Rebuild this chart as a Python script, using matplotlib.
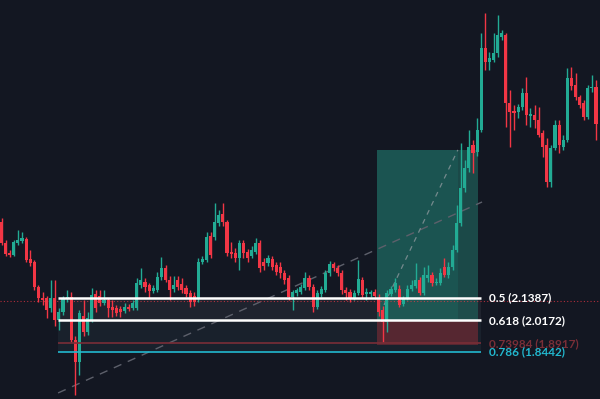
import matplotlib
matplotlib.use("Agg")
import matplotlib.pyplot as plt
import numpy as np
from matplotlib.patches import Rectangle

# candle data (price), one entry per bar
opens = [2.553, 2.439, 2.385, 2.374, 2.439, 2.450, 2.461, 2.352, 2.335, 2.199,
         2.139, 2.139, 2.085, 2.139, 2.019, 2.063, 2.134, 2.144, 1.910, 1.790,
         2.041, 1.954, 2.019, 2.161, 2.150, 2.112, 2.128, 2.090, 2.085, 2.079,
         2.068, 2.090, 2.085, 2.085, 2.210, 2.226, 2.210, 2.177, 2.183, 2.254,
         2.303, 2.237, 2.188, 2.237, 2.215, 2.194, 2.166, 2.150, 2.134, 2.335,
         2.346, 2.477, 2.471, 2.548, 2.597, 2.553, 2.390, 2.385, 2.357, 2.439,
         2.390, 2.368, 2.390, 2.439, 2.335, 2.330, 2.352, 2.319, 2.308, 2.275,
         2.248, 2.144, 2.166, 2.172, 2.194, 2.248, 2.199, 2.090, 2.161, 2.183,
         2.275, 2.324, 2.303, 2.275, 2.183, 2.172, 2.139, 2.166, 2.237, 2.161,
         2.161, 2.172, 2.139, 2.074, 2.008, 2.161, 2.183, 2.188, 2.106, 2.139,
         2.188, 2.204, 2.237, 2.166, 2.248, 2.265, 2.221, 2.221, 2.308, 2.265,
         2.308, 2.401, 2.548, 2.739, 2.848, 2.973, 2.935, 3.055, 3.501, 3.425,
         3.436, 3.474, 3.561, 3.572, 3.202, 3.158, 3.153, 3.180, 3.256, 3.131,
         3.136, 3.109, 3.038, 2.973, 2.771, 2.957, 3.082, 2.962, 3.000, 3.338,
         3.300, 3.234, 3.202, 3.125, 3.283, 3.289]
closes = [2.439, 2.379, 2.374, 2.444, 2.455, 2.466, 2.346, 2.330, 2.199, 2.139,
          2.128, 2.074, 2.139, 2.019, 2.063, 2.139, 2.144, 1.910, 1.790, 2.057,
          1.954, 2.030, 2.155, 2.085, 2.112, 2.128, 2.085, 2.074, 2.057, 2.063,
          2.090, 2.079, 2.112, 2.221, 2.237, 2.199, 2.177, 2.194, 2.254, 2.303,
          2.237, 2.183, 2.210, 2.199, 2.183, 2.161, 2.117, 2.117, 2.335, 2.352,
          2.471, 2.374, 2.553, 2.591, 2.553, 2.385, 2.379, 2.357, 2.439, 2.385,
          2.357, 2.401, 2.439, 2.303, 2.313, 2.357, 2.308, 2.281, 2.275, 2.237,
          2.144, 2.172, 2.183, 2.199, 2.248, 2.199, 2.090, 2.166, 2.188, 2.275,
          2.324, 2.303, 2.275, 2.183, 2.166, 2.139, 2.166, 2.243, 2.155, 2.172,
          2.172, 2.150, 2.063, 2.008, 2.166, 2.188, 2.221, 2.101, 2.139, 2.188,
          2.210, 2.237, 2.166, 2.265, 2.265, 2.221, 2.226, 2.275, 2.265, 2.308,
          2.401, 2.548, 2.739, 2.848, 2.962, 2.929, 3.055, 3.501, 3.425, 3.447,
          3.474, 3.572, 3.583, 3.202, 3.153, 3.147, 3.180, 3.256, 3.136, 3.142,
          3.109, 3.027, 2.962, 2.771, 2.957, 3.082, 2.973, 3.000, 3.338, 3.294,
          3.234, 3.191, 3.125, 3.283, 3.289, 3.087]
highs = [2.575, 2.455, 2.401, 2.455, 2.510, 2.499, 2.471, 2.401, 2.346, 2.210,
         2.172, 2.150, 2.237, 2.237, 2.085, 2.150, 2.183, 2.172, 1.932, 2.074,
         2.128, 2.063, 2.194, 2.183, 2.183, 2.183, 2.139, 2.128, 2.101, 2.095,
         2.112, 2.106, 2.128, 2.248, 2.303, 2.248, 2.221, 2.210, 2.281, 2.363,
         2.319, 2.259, 2.259, 2.259, 2.248, 2.210, 2.183, 2.172, 2.357, 2.368,
         2.499, 2.499, 2.657, 2.619, 2.657, 2.564, 2.444, 2.411, 2.455, 2.455,
         2.406, 2.422, 2.466, 2.455, 2.357, 2.374, 2.368, 2.335, 2.335, 2.292,
         2.265, 2.183, 2.194, 2.215, 2.281, 2.265, 2.215, 2.183, 2.204, 2.292,
         2.341, 2.335, 2.319, 2.292, 2.199, 2.188, 2.183, 2.346, 2.254, 2.194,
         2.183, 2.188, 2.161, 2.095, 2.183, 2.204, 2.248, 2.210, 2.150, 2.210,
         2.237, 2.330, 2.254, 2.308, 2.319, 2.281, 2.248, 2.303, 2.357, 2.335,
         2.428, 2.646, 2.984, 2.891, 3.055, 3.000, 3.120, 3.583, 3.692, 3.480,
         3.583, 3.681, 3.600, 3.583, 3.273, 3.191, 3.196, 3.283, 3.343, 3.174,
         3.191, 3.180, 3.055, 3.011, 2.973, 3.109, 3.109, 3.027, 3.392, 3.398,
         3.365, 3.245, 3.218, 3.300, 3.354, 3.327]
lows = [2.428, 2.368, 2.363, 2.368, 2.428, 2.439, 2.335, 2.313, 2.183, 2.117,
        2.101, 2.030, 2.063, 1.986, 1.965, 2.046, 2.117, 1.899, 1.611, 1.720,
        1.932, 1.937, 2.008, 2.063, 2.095, 2.101, 2.035, 2.035, 2.041, 2.035,
        2.057, 2.068, 2.074, 2.074, 2.194, 2.172, 2.139, 2.166, 2.172, 2.237,
        2.226, 2.128, 2.172, 2.183, 2.166, 2.144, 2.090, 2.095, 2.117, 2.324,
        2.335, 2.357, 2.455, 2.531, 2.531, 2.368, 2.357, 2.335, 2.292, 2.357,
        2.335, 2.357, 2.379, 2.281, 2.292, 2.313, 2.292, 2.265, 2.248, 2.215,
        2.128, 2.074, 2.150, 2.161, 2.183, 2.183, 2.063, 2.079, 2.144, 2.172,
        2.259, 2.286, 2.259, 2.161, 2.128, 2.117, 2.128, 2.155, 2.139, 2.128,
        2.144, 2.134, 2.041, 1.899, 1.954, 2.150, 2.172, 2.090, 2.095, 2.128,
        2.177, 2.194, 2.155, 2.155, 2.226, 2.204, 2.210, 2.210, 2.254, 2.248,
        2.292, 2.390, 2.531, 2.717, 2.826, 2.820, 2.913, 3.044, 3.382, 3.382,
        3.425, 3.452, 3.545, 3.071, 2.962, 3.055, 3.120, 3.164, 3.082, 3.071,
        3.066, 3.016, 2.908, 2.744, 2.744, 2.946, 2.929, 2.946, 2.989, 3.273,
        3.218, 3.174, 3.109, 3.114, 3.262, 3.000]

# fibonacci retracement levels
fib_ratios = ["0.5", "0.618", "0.73984", "0.786"]
fib_prices = [2.1387, 2.0172, 1.8917, 1.8442]
fib_colors = ["#ffffff", "#ffffff", "#7a2e37", "#22b8cf"]

# long position box: entry / target / stop
entry_price = 2.019
target_price = 2.946
stop_price = 1.883
last_price = 2.123

bg = "#131722"
up = "#22ab94"
down = "#f23645"

fig = plt.figure(figsize=(6, 3.99), dpi=100, facecolor=bg)
ax = fig.add_axes([0, 0, 1, 1])
ax.set_facecolor(bg)
ax.set_xlim(-0.366, 145.97)
ax.set_ylim(1.588, 3.763)
ax.axis("off")

n = len(opens)
x = np.arange(n)

# fib bands (under the candles)
fx0, fx1 = 13.8, 117.0
ax.fill_between([fx0, fx1], fib_prices[0], fib_prices[1], color="#2a2e39", alpha=0.55, lw=0, zorder=1)
ax.fill_between([fx0, fx1], fib_prices[1], fib_prices[3], color="#1f2b36", alpha=0.55, lw=0, zorder=1)

# position box
bx0, bx1, bmid = 91.6, 116.2, 111.3
ax.add_patch(Rectangle((bx0, entry_price), bx1 - bx0, target_price - entry_price,
                       facecolor="#1e5a55", edgecolor="none", alpha=0.75, zorder=1))
ax.add_patch(Rectangle((bx0, entry_price), bmid - bx0, target_price - entry_price,
                       facecolor="#22ab94", edgecolor="none", alpha=0.12, zorder=1))
ax.add_patch(Rectangle((bx0, stop_price), bx1 - bx0, entry_price - stop_price,
                       facecolor="#6b2a33", edgecolor="none", alpha=0.75, zorder=1))

# dashed lines
ax.plot([13.8, 117.2], [1.621, 2.662], color="#5d606b", lw=1.0, ls=(0, (6, 5)), zorder=2)
ax.plot([93.3, 111.3], [2.101, 2.946], color="#9aa0a6", lw=0.9, ls=(0, (4, 4)), alpha=0.7, zorder=2)

# current price line
ax.axhline(last_price, color=down, lw=0.8, ls=(0, (1, 2)), alpha=0.7, zorder=2)

# candles
for i in range(n):
    o, c, h, l = opens[i], closes[i], highs[i], lows[i]
    col = up if c >= o else down
    ax.vlines(x[i], l, h, color=col, lw=1.0, zorder=3)
    ax.add_patch(Rectangle((x[i] - 0.38, min(o, c)), 0.76, max(abs(c - o), 0.006),
                           facecolor=col, edgecolor="none", zorder=4))

# fib lines and labels
for r, p, col in zip(fib_ratios, fib_prices, fib_colors):
    lw = 1.8 if col == "#ffffff" else 1.2
    ax.hlines(p, fx0, fx1, color=col, lw=lw, zorder=5)
    ax.text(118.9, p, "%s (%.4f)" % (r, p), color=col, fontsize=8.5, fontweight="bold",
            family=["Lato", "DejaVu Sans"], va="center", ha="left", zorder=6)

fig.savefig("out.png", dpi=100, facecolor=bg)
